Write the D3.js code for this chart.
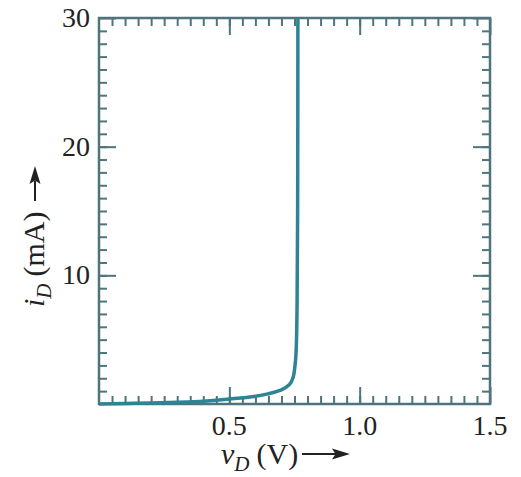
<!DOCTYPE html>
<html>
<head>
<meta charset="utf-8">
<script src="https://cdn.jsdelivr.net/npm/d3@7"></script>
<style>
  body { margin: 0; background: #fff; }
  text { font-family: "Liberation Serif", "DejaVu Serif", serif; fill: #222; }
</style>
</head>
<body>
<div id="chart"></div>
<script>
(function() {

    var width = 521;
    var height = 477;

    // diode curve
    var vD = [0, 0.1, 0.2, 0.3, 0.4, 0.5, 0.6, 0.65, 0.7, 0.73, 0.745, 0.752, 0.757, 0.76, 0.762, 0.763];
    var iD = [0, 0.04, 0.08, 0.13, 0.22, 0.38, 0.6, 0.8, 1.1, 1.5, 2.1, 3.0, 4.5, 8, 15, 30];

    var xMajor = [0.5, 1.0, 1.5];
    var xLabels = ["0.5", "1.0", "1.5"];
    var yMajor = [10, 20, 30];
    var yLabels = ["10", "20", "30"];
    var xMinor = d3.range(1, 30).map(function (k) { return k * 0.05; });
    var yMinor = d3.range(1, 30).map(function (k) { return k; });

    var margin = {left: 99, right: 31, top: 18, bottom: 73};
    var frame = "#4f747d";
    var curveColor = "#2c8494";

    var x = d3.scaleLinear().domain([0, 1.5]).range([margin.left, width - margin.right]);
    var y = d3.scaleLinear().domain([0, 30]).range([height - margin.bottom, margin.top]);

    var svg = d3.select("#chart").append("svg")
        .attr("width", width)
        .attr("height", height);

    function tickAxis(axis, translate) {
        var g = svg.append("g").attr("transform", translate).call(axis);
        g.select(".domain").remove();
        g.selectAll(".tick line").attr("stroke", frame).attr("stroke-width", 2);
        return g;
    }

    var bottom = "translate(0," + y(0) + ")";
    var top = "translate(0," + y(30) + ")";
    var left = "translate(" + x(0) + ",0)";
    var right = "translate(" + x(1.5) + ",0)";

    // minor ticks, inward on all four sides
    tickAxis(d3.axisBottom(x).tickValues(xMinor).tickSize(-8).tickFormat(""), bottom);
    tickAxis(d3.axisTop(x).tickValues(xMinor).tickSize(-8).tickFormat(""), top);
    tickAxis(d3.axisLeft(y).tickValues(yMinor).tickSize(-8).tickFormat(""), left);
    tickAxis(d3.axisRight(y).tickValues(yMinor).tickSize(-8).tickFormat(""), right);

    // major ticks
    tickAxis(d3.axisBottom(x).tickValues(xMajor).tickSize(-17).tickFormat(""), bottom);
    tickAxis(d3.axisTop(x).tickValues(xMajor).tickSize(-17).tickFormat(""), top);
    tickAxis(d3.axisLeft(y).tickValues(yMajor).tickSize(-17).tickFormat(""), left);
    tickAxis(d3.axisRight(y).tickValues(yMajor).tickSize(-17).tickFormat(""), right);

    // frame
    svg.append("rect")
        .attr("x", x(0)).attr("y", y(30))
        .attr("width", x(1.5) - x(0)).attr("height", y(0) - y(30))
        .attr("fill", "none").attr("stroke", frame).attr("stroke-width", 2.5);

    // tick labels
    svg.selectAll(".xlab").data(xMajor).enter().append("text")
        .attr("class", "xlab")
        .attr("x", function (d) { return x(d); })
        .attr("y", 435)
        .attr("text-anchor", "middle")
        .style("font-size", "28px")
        .text(function (d, i) { return xLabels[i]; });

    svg.selectAll(".ylab").data(yMajor).enter().append("text")
        .attr("class", "ylab")
        .attr("x", 90)
        .attr("y", function (d) { return y(d) + 9; })
        .attr("text-anchor", "end")
        .style("font-size", "28px")
        .text(function (d, i) { return yLabels[i]; });

    // curve
    var line = d3.line()
        .x(function (d) { return x(d[0]); })
        .y(function (d) { return y(d[1]); })
        .curve(d3.curveMonotoneY);

    svg.append("path")
        .datum(d3.zip(vD, iD))
        .attr("fill", "none")
        .attr("stroke", curveColor)
        .attr("stroke-width", 3.5)
        .attr("d", line);

    // axis titles
    var xt = svg.append("text").attr("x", 221).attr("y", 464).style("font-size", "30px");
    xt.append("tspan").style("font-style", "italic").text("v");
    xt.append("tspan").style("font-style", "italic").style("font-size", "21px").attr("dy", 7).text("D");
    xt.append("tspan").attr("dy", -7).attr("dx", 7).text("(V)");

    svg.append("line")
        .attr("x1", 302).attr("x2", 336).attr("y1", 454).attr("y2", 454)
        .attr("stroke", "#222").attr("stroke-width", 2);
    svg.append("path")
        .attr("d", "M350,454 L332,448.5 L335.5,454 L332,459.5 Z")
        .attr("fill", "#222");

    var yt = svg.append("text")
        .attr("transform", "translate(44,307) rotate(-90)")
        .style("font-size", "30px");
    yt.append("tspan").style("font-style", "italic").text("i");
    yt.append("tspan").style("font-style", "italic").style("font-size", "21px").attr("dy", 7).text("D");
    yt.append("tspan").attr("dy", -7).attr("dx", 7).text("(mA)");

    svg.append("line")
        .attr("x1", 35).attr("x2", 35).attr("y1", 201).attr("y2", 181)
        .attr("stroke", "#222").attr("stroke-width", 2);
    svg.append("path")
        .attr("d", "M35,166 L29.5,184 L35,180.5 L40.5,184 Z")
        .attr("fill", "#222");

})();
</script>
</body>
</html>
